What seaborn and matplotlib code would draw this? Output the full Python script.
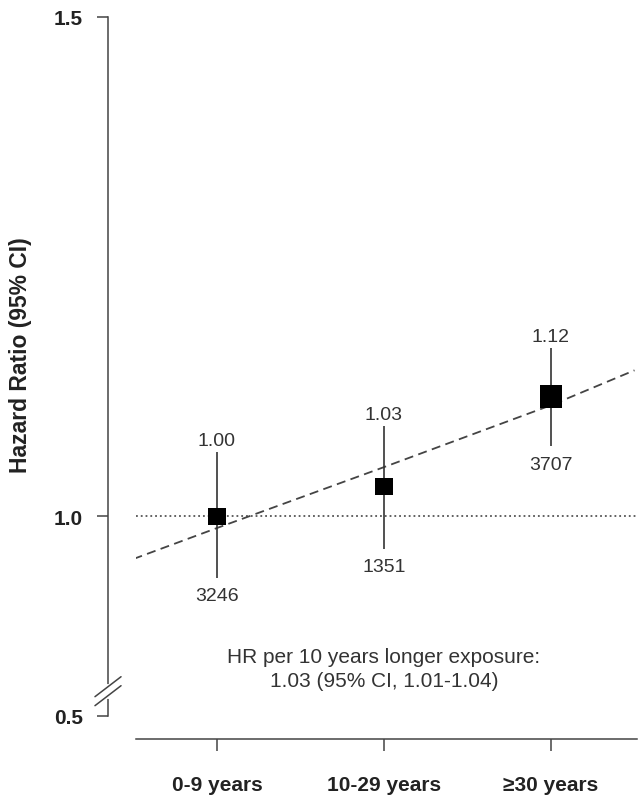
import matplotlib.pyplot as plt
import matplotlib.transforms as mtransforms
import numpy as np
import pandas as pd
import seaborn as sns

# --- data ---
categories = ["0-9 years", "10-29 years", "≥30 years"]
hr = [1.00, 1.03, 1.12]
ci_low = [0.938, 0.967, 1.070]
ci_high = [1.064, 1.090, 1.168]
hr_labels = ["1.00", "1.03", "1.12"]
n_cases = ["3246", "1351", "3707"]

# fitted trend (dashed), read at a few points along the line
trend_x = [-0.5, 0.0, 1.0, 2.0, 2.5]
trend_hr = [0.957, 0.988, 1.049, 1.111, 1.146]

# 0.5 is drawn just below the axis break, at 0.8 on the linear scale
y_ticks = [0.8, 1.0, 1.5]
y_tick_labels = ["0.5", "1.0", "1.5"]

note = "HR per 10 years longer exposure:\n1.03 (95% CI, 1.01-1.04)"

# marker areas (pt^2), bigger box for the third group
marker_area = [150, 150, 272]

INK = "#333333"


def main():
    sns.set_theme(style="white")
    plt.rcParams["font.family"] = ["Liberation Sans", "DejaVu Sans"]

    df = pd.DataFrame({
        "x": np.arange(len(categories)),
        "hr": hr,
        "area": marker_area,
    })

    fig = plt.figure(figsize=(6.41, 8.03), dpi=100)
    ax = fig.add_axes([136 / 641, 63 / 803, 501 / 641, 722 / 803])

    # spines first: set_position resets the tick objects
    sns.despine(ax=ax)
    ax.spines["left"].set_position(("outward", 20))
    ax.spines["left"].set_bounds(0.8, 1.5)
    for side in ("left", "bottom"):
        ax.spines[side].set_color("#444444")
        ax.spines[side].set_linewidth(1.1)

    # reference line at HR = 1 and the trend
    ax.axhline(1.0, color="#555555", linestyle=":", linewidth=1.3, zorder=1)
    sns.lineplot(x=trend_x, y=trend_hr, ax=ax, color="#444444",
                 linewidth=1.3, linestyle=(0, (5, 3)), zorder=2)

    # confidence intervals + point estimates
    ax.vlines(df["x"], ci_low, ci_high, color=INK, linewidth=1.2, zorder=3)
    sns.scatterplot(data=df, x="x", y="hr", size="area",
                    sizes={a: a for a in marker_area}, marker="s",
                    color="black", linewidth=0, legend=False, ax=ax, zorder=4)

    for i in range(len(categories)):
        ax.annotate(hr_labels[i], (i, ci_high[i]), xytext=(0, 12),
                    textcoords="offset pixels", ha="center", va="center",
                    fontsize=14, color=INK)
        ax.annotate(n_cases[i], (i, ci_low[i]), xytext=(0, -18),
                    textcoords="offset pixels", ha="center", va="center",
                    fontsize=14, color=INK)

    ax.text(1.0, 0.847, note, ha="center", va="center", fontsize=15,
            linespacing=1.3, color=INK)

    # axes
    ax.set_xlim(-0.485, 2.515)
    ax.set_ylim(0.7766, 1.5)
    ax.set_xticks(df["x"])
    ax.set_xticklabels(categories, fontweight="bold", fontsize=15)
    ax.set_yticks(y_ticks)
    ax.set_yticklabels(y_tick_labels, fontweight="bold", fontsize=15)
    ax.set_xlabel("")
    ax.set_ylabel("Hazard Ratio (95% CI)", fontweight="bold", fontsize=16.5,
                  color="#222222")
    ax.yaxis.set_label_coords(-0.208, 0.533)

    ax.tick_params(axis="y", left=True, direction="out", length=8, width=1.1,
                   color="#444444", pad=10, labelcolor="#222222")
    ax.tick_params(axis="x", bottom=True, direction="out", length=8.6,
                   width=1.1, color="#444444", pad=17, labelcolor="#222222")

    # axis break marks on the y spine
    spine_x = -28 / 501
    trans = mtransforms.blended_transform_factory(ax.transAxes, ax.transData)
    ax.plot([spine_x, spine_x], [0.819, 0.830], color="white", linewidth=3,
            transform=trans, clip_on=False, zorder=5)
    for yc in (0.820, 0.829):
        ax.plot([spine_x - 0.026, spine_x + 0.026], [yc - 0.010, yc + 0.010],
                color="#444444", linewidth=1.1, transform=trans,
                clip_on=False, zorder=6)

    fig.savefig("out.png", dpi=100)
    plt.close(fig)


if __name__ == "__main__":
    main()
